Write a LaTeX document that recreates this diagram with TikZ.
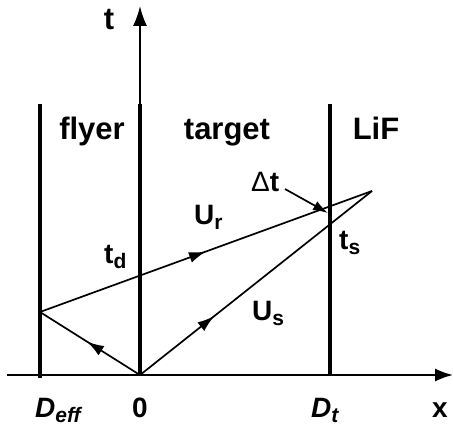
\documentclass[tikz,border=0pt]{standalone}
\usepackage{fontspec}
\setmainfont{Liberation Sans}
\usetikzlibrary{arrows.meta,decorations.markings}
\newcommand{\lsub}[1]{\raisebox{-5pt}{\fontsize{21}{21}\selectfont #1}}
\begin{document}
\begin{tikzpicture}[x=1pt,y=-1pt,
  wall/.style={line width=4.8pt},
  thinline/.style={line width=1.7pt},
  head/.style={font=\fontsize{31}{31}\selectfont\bfseries, inner sep=0pt},
  lbl/.style={font=\fontsize{28}{28}\selectfont\bfseries, inner sep=0pt},
  midarrow/.style={postaction={decorate},decoration={markings,
     mark=at position #1 with {\arrow{Latex[length=17pt,width=11pt]}}}}]
\useasboundingbox (0,0) rectangle (453,433);
% key points
\coordinate (O) at (140,375);
\coordinate (A) at (40,312);
\coordinate (P) at (372,191);
% axes
\coordinate (xs) at (7,375);
\coordinate (xe) at (453,375);
\coordinate (tt) at (140,6);
\draw[thinline,-{Latex[length=18pt,width=13pt]}] (xs) -- (xe);
\draw[thinline,-{Latex[length=20pt,width=14pt]}] (O) -- (tt);
% walls
\coordinate (w1t) at (40,104);  \coordinate (w1b) at (40,378);
\coordinate (w2t) at (140,104); \coordinate (w2b) at (140,376);
\coordinate (w3t) at (330,104); \coordinate (w3b) at (330,376);
\draw[wall] (w1t) -- (w1b);
\draw[wall] (w2t) -- (w2b);
\draw[wall] (w3t) -- (w3b);
% wave lines
\draw[thinline,midarrow=0.53] (O) -- (A);
\draw[thinline,midarrow=0.5] (A) -- (P);
\draw[thinline,midarrow=0.32] (O) -- (P);
% delta t arrow
\coordinate (ds) at (285,189);
\coordinate (de) at (328,213);
\draw[thinline,-{Latex[length=15pt,width=10pt]}] (ds) -- (de);
% labels
\node[head,anchor=base] (tlab) at (109,30) {t};
\node[head,anchor=base] (flyer) at (92,140) {flyer};
\node[head,anchor=base] (target) at (227,140) {target};
\node[head,anchor=base] (lif) at (376,140) {LiF};
\node[lbl,anchor=base west] (td) at (104,264) {t\lsub{d}};
\node[lbl,anchor=base west] (ur) at (194,225) {U\lsub{r}};
\node[lbl,anchor=base west] (ts) at (339,250) {t\lsub{s}};
\node[lbl,anchor=base west] (us) at (252,320) {U\lsub{s}};
\node[lbl,anchor=base west] (dt) at (251,192) {{\fontseries{m}\selectfont Δ}t};
\node[lbl,anchor=base west] (deff) at (35,417) {\itshape D\lsub{eff}};
\node[lbl,anchor=base] (zero) at (140,417) {0};
\node[lbl,anchor=base west] (dtl) at (311,417) {\itshape D\lsub{t}};
\node[lbl,anchor=base] (xl) at (440,417) {x};
\end{tikzpicture}
\end{document}
